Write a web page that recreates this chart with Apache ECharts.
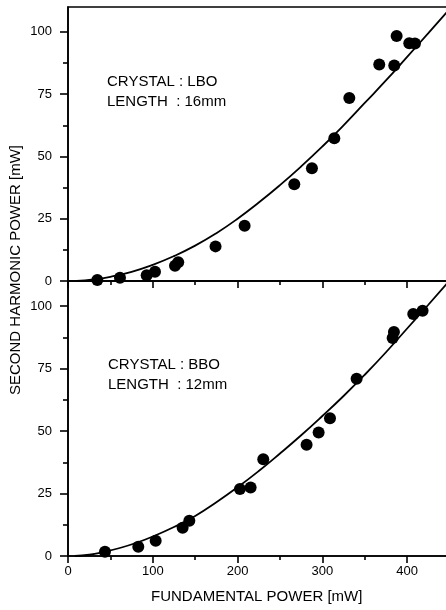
<!DOCTYPE html>
<html>
<head>
<meta charset="utf-8">
<script src="https://cdn.jsdelivr.net/npm/echarts@6/dist/echarts.min.js"></script>
<style>
    html, body { margin: 0; padding: 0; background: #fff; }
    #main { width: 446px; height: 610px; }
</style>
</head>
<body>
<div id="main"></div>
<script>
// 刻度
var xMajorTicks = [0, 100, 200, 300, 400];
var xMinorTicks = [50, 150, 250, 350];
var yMajorTicks = [0, 25, 50, 75, 100];
var yMinorTicks = [12.5, 37.5, 62.5, 87.5];

// LBO 16mm 测量点
var lboX = [34.6, 61.3, 92.8, 102.6, 126.2, 130, 174, 208.3, 266.9, 287.7, 314.1, 331.8, 367.1, 384.8, 387.6, 402.5, 409.2];
var lboY = [0.4, 1.3, 2.3, 3.7, 6.1, 7.5, 13.9, 22.2, 38.8, 45.3, 57.3, 73.5, 86.9, 86.5, 98.4, 95.4, 95.3];
// LBO 拟合曲线
var lboFitX = [10, 30, 50, 75, 100, 125, 150, 175, 200, 225, 250, 275, 300, 325, 350, 375, 400, 425, 447];
var lboFitY = [0, 0.6, 1.7, 3.7, 6.5, 10, 14.2, 19.2, 25, 31.5, 38.5, 46, 54, 62.5, 71.5, 80.5, 90, 99.5, 108];

// BBO 12mm 测量点
var bboX = [43.6, 82.9, 103.4, 135.2, 143.1, 202.8, 215.4, 230.3, 281.4, 295.6, 309, 340.4, 382.9, 384.4, 407.2, 418.2];
var bboY = [1.7, 3.7, 6.1, 11.3, 14.1, 26.8, 27.4, 38.7, 44.5, 49.4, 55.1, 70.9, 87.2, 89.6, 96.8, 98.1];
// BBO 拟合曲线
var bboFitX = [8, 25, 43, 60, 80, 100, 125, 150, 175, 200, 225, 250, 275, 300, 325, 350, 375, 400, 425, 447];
var bboFitY = [0, 0.5, 1.7, 3.1, 5.2, 7.8, 11.6, 16, 21.5, 27.5, 34, 41, 48.3, 56, 64, 72.5, 81.5, 91, 100.5, 109];

var fontName = 'Liberation Sans, Arial, sans-serif';

function zip(xs, ys) {
    var out = [];
    for (var i = 0; i < xs.length; i++) {
        out.push([xs[i], ys[i]]);
    }
    return out;
}

/**
 * 主坐标轴 / 次刻度轴
 */
function xAxisOf(gridIndex, ticks, len, withLabel, withLine) {
    return {
        type: 'value', gridIndex: gridIndex, position: 'bottom',
        min: 0, max: 447,
        axisLine: { show: withLine, lineStyle: { color: '#000', width: 1.6 } },
        axisTick: { show: true, customValues: ticks, length: len, lineStyle: { color: '#000', width: 1.6 } },
        axisLabel: {
            show: withLabel, customValues: xMajorTicks, margin: 9,
            color: '#000', fontSize: 13, fontFamily: fontName
        },
        splitLine: { show: false }
    };
}

function yAxisOf(gridIndex, ticks, len, withLabel, withLine) {
    return {
        type: 'value', gridIndex: gridIndex, position: 'left',
        min: 0, max: 110,
        axisLine: { show: withLine, lineStyle: { color: '#000', width: 1.6 } },
        axisTick: { show: true, customValues: ticks, length: len, lineStyle: { color: '#000', width: 1.6 } },
        axisLabel: {
            show: withLabel, customValues: yMajorTicks, margin: 16,
            color: '#000', fontSize: 13, fontFamily: fontName
        },
        splitLine: { show: false }
    };
}

function fitSeries(xi, yi, data) {
    return {
        type: 'line', xAxisIndex: xi, yAxisIndex: yi,
        data: data, smooth: true, showSymbol: false, silent: true,
        lineStyle: { color: '#000', width: 1.8 }
    };
}

function pointSeries(xi, yi, data) {
    return {
        type: 'scatter', xAxisIndex: xi, yAxisIndex: yi,
        data: data, symbol: 'circle', symbolSize: 12,
        itemStyle: { color: '#000', opacity: 1 }
    };
}

function label(x, y, str) {
    return {
        type: 'text', left: x, top: y,
        style: { text: str, fill: '#000', font: '15px ' + fontName }
    };
}

var myChart = echarts.init(document.getElementById('main'), null, { renderer: 'canvas' });

var option = {
    animation: false,
    backgroundColor: '#fff',
    grid: [
        { left: 68, top: 7, right: -1, height: 274, show: true, borderColor: '#000', borderWidth: 1.6, containLabel: false, outerBoundsMode: 'none' },
        { left: 68, top: 281, right: -1, height: 275, show: true, borderColor: '#000', borderWidth: 1.6, containLabel: false, outerBoundsMode: 'none' }
    ],
    xAxis: [
        xAxisOf(0, xMajorTicks, 7, false, true),
        xAxisOf(0, xMinorTicks, 4, false, false),
        xAxisOf(1, xMajorTicks, 7, true, true),
        xAxisOf(1, xMinorTicks, 4, false, false)
    ],
    yAxis: [
        yAxisOf(0, yMajorTicks, 8, true, true),
        yAxisOf(0, yMinorTicks, 5, false, false),
        yAxisOf(1, yMajorTicks, 8, true, true),
        yAxisOf(1, yMinorTicks, 5, false, false)
    ],
    series: [
        fitSeries(0, 0, zip(lboFitX, lboFitY)),
        pointSeries(0, 0, zip(lboX, lboY)),
        fitSeries(2, 2, zip(bboFitX, bboFitY)),
        pointSeries(2, 2, zip(bboX, bboY))
    ],
    graphic: [
        label(107, 74, 'CRYSTAL : LBO'),
        label(107, 94, 'LENGTH  : 16mm'),
        label(108, 357, 'CRYSTAL : BBO'),
        label(108, 377, 'LENGTH  : 12mm'),
        {
            type: 'text', left: 151, top: 589,
            style: { text: 'FUNDAMENTAL POWER [mW]', fill: '#000', font: '15px ' + fontName }
        },
        {
            type: 'text', x: 8, y: 395, rotation: Math.PI / 2,
            style: { text: 'SECOND HARMONIC POWER [mW]', fill: '#000', font: '15px ' + fontName }
        }
    ]
};

myChart.setOption(option);
</script>
</body>
</html>
